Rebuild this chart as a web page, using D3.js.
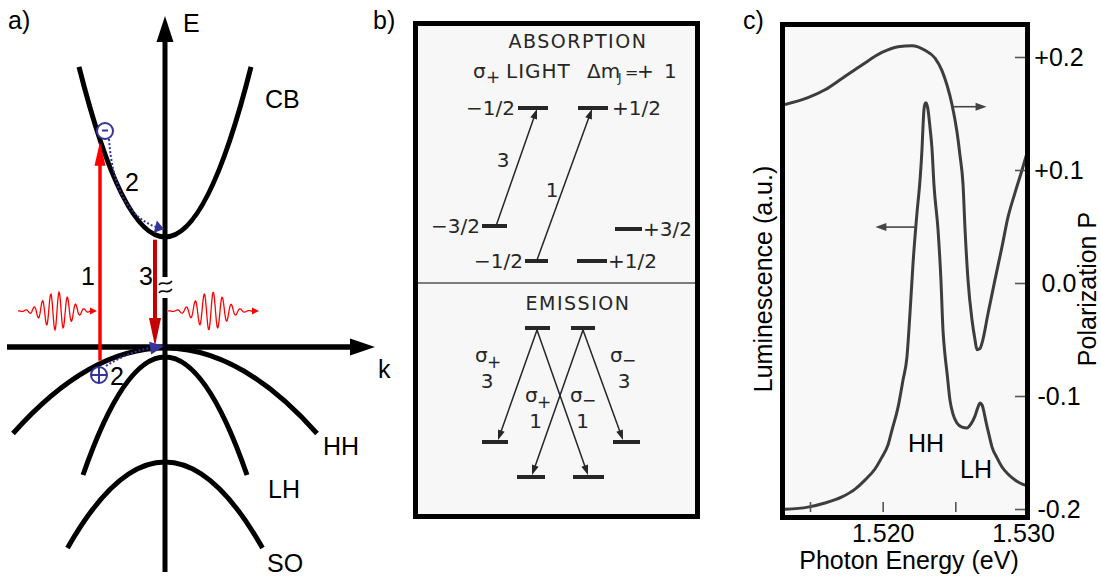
<!DOCTYPE html>
<html>
<head>
<meta charset="utf-8">
<script src="https://cdn.jsdelivr.net/npm/d3@7/dist/d3.min.js"></script>
<style>
  html, body { margin: 0; padding: 0; background: #ffffff; }
  svg { display: block; }
</style>
</head>
<body>
<svg id="fig" width="1101" height="579"></svg>
<script>
// ---------- (a) band diagram: parabolic bands E(k) = E0 + c*k^2 ----------
const bandNames = ["CB", "HH", "LH", "SO"];
const bandEdge  = [1.10, -0.01, -0.10, -1.15];
const bandCurv  = [2.30, -0.37, -1.755, -0.905];
const bandKMax  = [0.86, 1.52, 0.82, 0.975];
const pumpK = -0.65;   // step 1: absorption
const emitK = -0.10;   // step 3: emission

// ---------- (b) optical selection rules ----------
const absUpper = ["\u22121/2", "+1/2"];
const absLower = ["\u22123/2", "+3/2", "\u22121/2", "+1/2"];
const absStrength = ["3", "1"];
const emiSigma = ["+", "\u2212", "+", "\u2212"];
const emiStrength = ["3", "3", "1", "1"];

// ---------- (c) luminescence and polarization spectra ----------
const lumE = [1.51328, 1.51486, 1.51603, 1.51720, 1.51810, 1.51878, 1.51947, 1.51995, 1.52037, 1.52064,
              1.52106, 1.52140, 1.52167, 1.52188, 1.52209, 1.52236, 1.52257, 1.52271, 1.52278, 1.52284,
              1.52291, 1.52298, 1.52305, 1.52312, 1.52326, 1.52339, 1.52353, 1.52381, 1.52401, 1.52415,
              1.52429, 1.52443, 1.52463, 1.52484, 1.52511, 1.52546, 1.52580, 1.52608, 1.52635, 1.52656,
              1.52670, 1.52684, 1.52697, 1.52711, 1.52732, 1.52752, 1.52787, 1.52821, 1.52862, 1.52911,
              1.52979, 1.53000];
const lumI = [0.002, 0.007, 0.017, 0.032, 0.051, 0.073, 0.100, 0.129, 0.159, 0.195,
              0.251, 0.317, 0.373, 0.480, 0.602, 0.724, 0.805, 0.883, 0.939, 0.976,
              0.990, 0.993, 0.988, 0.976, 0.932, 0.883, 0.793, 0.683, 0.561, 0.439,
              0.378, 0.334, 0.268, 0.234, 0.212, 0.202, 0.200, 0.210, 0.229, 0.251,
              0.261, 0.256, 0.239, 0.215, 0.183, 0.154, 0.127, 0.105, 0.088, 0.073,
              0.061, 0.059];
const polE = [1.51328, 1.51486, 1.51603, 1.51720, 1.51858, 1.51995, 1.52106, 1.52202, 1.52291, 1.52360,
              1.52408, 1.52443, 1.52477, 1.52511, 1.52532, 1.52553, 1.52567, 1.52587, 1.52615, 1.52635,
              1.52649, 1.52670, 1.52684, 1.52725, 1.52773, 1.52821, 1.52862, 1.52911, 1.52959, 1.53000];
const polP = [0.158, 0.164, 0.171, 0.181, 0.193, 0.204, 0.209, 0.210, 0.206, 0.199,
              0.188, 0.175, 0.158, 0.134, 0.113, 0.087, 0.047, 0.003, -0.033, -0.050,
              -0.059, -0.058, -0.053, -0.027, 0.003, 0.032, 0.058, 0.080, 0.100, 0.118];
const eTicks = [1.515, 1.520, 1.525, 1.530];
const eTickLabels = ["", "1.520", "", "1.530"];
const pTicks = [0.2, 0.1, 0.0, -0.1, -0.2];
const pTickLabels = ["+0.2", "+0.1", "0.0", "-0.1", "-0.2"];

const SANS = "'Liberation Sans', Arial, sans-serif";
const HAND = "'DejaVu Sans', sans-serif";
const svg = d3.select("#fig");

// filled triangular arrowhead ending at (x2, y2), pointing along (x1,y1)->(x2,y2)
function arrowHead(g, x1, y1, x2, y2, len, half, color) {
  const a = Math.atan2(y2 - y1, x2 - x1);
  const bx = x2 - len * Math.cos(a), by = y2 - len * Math.sin(a);
  const px = -Math.sin(a) * half, py = Math.cos(a) * half;
  g.append("polygon")
    .attr("points", `${x2},${y2} ${bx + px},${by + py} ${bx - px},${by - py}`)
    .attr("fill", color);
}
function label(g, txt, x, y, opts = {}) {
  return g.append("text").attr("x", x).attr("y", y)
    .attr("font-family", opts.family || SANS)
    .attr("font-size", opts.size || 25)
    .attr("fill", opts.fill || "#000")
    .attr("text-anchor", opts.anchor || "start")
    .text(txt);
}

// ======================= panel (a) =======================
const gA = svg.append("g");
const kX = d3.scaleLinear().domain([0, 1]).range([165, 265]);
const eY = d3.scaleLinear().domain([0, 1]).range([347, 247]);
const bandE = (i, k) => bandEdge[i] + bandCurv[i] * k * k;

// axes
gA.append("line").attr("x1", kX(0)).attr("x2", kX(0)).attr("y1", 40).attr("y2", 277)
  .attr("stroke", "#000").attr("stroke-width", 5);
gA.append("line").attr("x1", kX(0)).attr("x2", kX(0)).attr("y1", 298).attr("y2", 572)
  .attr("stroke", "#000").attr("stroke-width", 5);
arrowHead(gA, kX(0), 80, kX(0), 16, 26, 8.5, "#000");
gA.append("line").attr("x1", 7).attr("x2", 352).attr("y1", eY(0)).attr("y2", eY(0))
  .attr("stroke", "#000").attr("stroke-width", 5.5);
arrowHead(gA, 300, eY(0), 375, eY(0), 25, 8.5, "#000");
// axis break
[283, 291].forEach(y => {
  gA.append("path")
    .attr("d", `M159,${y + 2} C162,${y - 4} 167,${y + 5} 172,${y - 2}`)
    .attr("fill", "none").attr("stroke", "#000").attr("stroke-width", 1.6);
});

// bands (exact parabolas as quadratic Beziers)
bandNames.forEach((name, i) => {
  const K = bandKMax[i];
  const p = d3.path();
  p.moveTo(kX(-K), eY(bandE(i, -K)));
  p.quadraticCurveTo(kX(0), eY(bandEdge[i] - bandCurv[i] * K * K), kX(K), eY(bandE(i, K)));
  gA.append("path").attr("d", p.toString()).attr("fill", "none")
    .attr("stroke", "#000").attr("stroke-width", 5);
});

// step 1: vertical absorption HH -> CB
{
  const x = kX(pumpK), yb = eY(bandE(1, pumpK)) - 3, yt = eY(bandE(0, pumpK)) + 2;
  gA.append("line").attr("x1", x).attr("x2", x).attr("y1", yb).attr("y2", yt + 22)
    .attr("stroke", "#ff0000").attr("stroke-width", 3.5);
  arrowHead(gA, x, yb, x, yt, 24, 5.5, "#ff0000");
}
// step 3: emission CB -> top of valence band
{
  const x = kX(emitK), yt = eY(bandE(0, emitK)) + 5, yb = eY(0) - 1;
  gA.append("line").attr("x1", x).attr("x2", x).attr("y1", yt).attr("y2", yb - 24)
    .attr("stroke", "#c40000").attr("stroke-width", 4);
  arrowHead(gA, x, yt, x, yb, 28, 6, "#c40000");
}

// photon wave packets
function wavePath(x0, x1, y0, xc, amp, period, sigma) {
  const pts = d3.range(x0, x1 + 0.01, 0.5).map(x => {
    const env = Math.exp(-0.5 * ((x - xc) / sigma) ** 2);
    return [x, y0 - amp * env * Math.sin(2 * Math.PI * (x - xc) / period)];
  });
  return d3.line()(pts);
}
gA.append("path").attr("d", wavePath(18, 92, 311, 57, 19, 8.3, 13))
  .attr("fill", "none").attr("stroke", "#ff0000").attr("stroke-width", 1.3);
arrowHead(gA, 85, 311, 97, 311, 7, 3.5, "#ff0000");
gA.append("path").attr("d", wavePath(168, 253, 311, 211, 19, 9, 14))
  .attr("fill", "none").attr("stroke", "#ff0000").attr("stroke-width", 1.3);
arrowHead(gA, 245, 311, 259, 311, 7, 3.5, "#ff0000");

// step 2: relaxation of electron and hole
const BLUE = "#35349a";
gA.append("path").attr("d", "M109,139 Q114,212 156,227")
  .attr("fill", "none").attr("stroke", BLUE).attr("stroke-width", 2).attr("stroke-dasharray", "2,2");
arrowHead(gA, 154, 226.5, 164, 229, 9, 6.5, BLUE);
gA.append("path").attr("d", "M106,366 Q128,352 150,348")
  .attr("fill", "none").attr("stroke", BLUE).attr("stroke-width", 2).attr("stroke-dasharray", "2,2");
arrowHead(gA, 148, 348.5, 164, 346, 14, 6.5, BLUE);

gA.append("circle").attr("cx", 105).attr("cy", 131).attr("r", 8)
  .attr("fill", "#fff").attr("stroke", BLUE).attr("stroke-width", 2);
gA.append("line").attr("x1", 102).attr("x2", 108).attr("y1", 130.5).attr("y2", 130.5)
  .attr("stroke", BLUE).attr("stroke-width", 2);
gA.append("circle").attr("cx", 99).attr("cy", 375).attr("r", 8)
  .attr("fill", "#fff").attr("stroke", BLUE).attr("stroke-width", 2);
gA.append("line").attr("x1", 99).attr("x2", 99).attr("y1", 367).attr("y2", 383)
  .attr("stroke", BLUE).attr("stroke-width", 2);
gA.append("line").attr("x1", 91).attr("x2", 107).attr("y1", 375).attr("y2", 375)
  .attr("stroke", BLUE).attr("stroke-width", 2);

// labels
label(gA, "a)", 8, 29);
label(gA, "E", 183, 32);
label(gA, "k", 378, 378);
label(gA, bandNames[0], 265, 108);
label(gA, bandNames[1], 323, 455);
label(gA, bandNames[2], 268, 498);
label(gA, bandNames[3], 267, 572);
label(gA, "1", 81, 285);
label(gA, "3", 139, 285);
label(gA, "2", 125, 191);
label(gA, "2", 110, 385);

// ======================= panel (b) =======================
const gB = svg.append("g");
const INK = "#262626";
gB.append("rect").attr("x", 415.5).attr("y", 23.5).attr("width", 282).attr("height", 493)
  .attr("fill", "#f7f7f7").attr("stroke", "#000").attr("stroke-width", 5);
gB.append("line").attr("x1", 418).attr("x2", 695).attr("y1", 283).attr("y2", 283)
  .attr("stroke", "#555").attr("stroke-width", 1.6);
label(gB, "b)", 373, 29);

function hand(txt, x, y, anchor = "start", size = 20) {
  return label(gB, txt, x, y, { family: HAND, size: size, fill: INK, anchor: anchor });
}
function bar(x1, x2, y) {
  gB.append("line").attr("x1", x1).attr("x2", x2).attr("y1", y).attr("y2", y)
    .attr("stroke", INK).attr("stroke-width", 4);
}
function thinArrow(x1, y1, x2, y2) {
  const a = Math.atan2(y2 - y1, x2 - x1);
  gB.append("line").attr("x1", x1).attr("y1", y1)
    .attr("x2", x2 - 7 * Math.cos(a)).attr("y2", y2 - 7 * Math.sin(a))
    .attr("stroke", INK).attr("stroke-width", 1.5);
  arrowHead(gB, x1, y1, x2, y2, 10, 3.5, INK);
}

hand("ABSORPTION", 578, 48, "middle", 19).attr("letter-spacing", 1.5);
hand("\u03C3", 473, 78);
hand("+", 486, 83, "start", 17);
hand("LIGHT", 506, 78).attr("letter-spacing", 1);
hand("\u0394m", 587, 78);
hand("J", 618, 82, "start", 12);
hand("=", 625, 78, "start", 16);
hand("+", 637, 78);
hand("1", 664, 78);

// absorption levels
bar(518, 548, 108); bar(578, 608, 108);
hand(absUpper[0], 515, 115, "end"); hand(absUpper[1], 612, 115);
bar(482, 507, 226); bar(615, 642, 229);
hand(absLower[0], 480, 233, "end"); hand(absLower[1], 643, 236);
bar(525, 548, 261); bar(577, 607, 261);
hand(absLower[2], 523, 268, "end"); hand(absLower[3], 608, 268);
thinArrow(496, 226, 537, 109);
thinArrow(537, 260, 592, 109);
hand(absStrength[0], 503, 167, "middle");
hand(absStrength[1], 552, 197, "middle");

// emission
hand("EMISSION", 578, 310, "middle", 19).attr("letter-spacing", 1.5);
bar(525, 550, 328); bar(571, 595, 328);
bar(482, 508, 442); bar(613, 640, 442);
bar(517, 545, 477); bar(573, 604, 477);
thinArrow(537, 330, 498, 440);
thinArrow(537, 330, 588, 475);
thinArrow(583, 330, 532, 475);
thinArrow(583, 330, 623, 440);
// sigma labels: outer pair, then inner pair
[[475, 362, 487], [610, 362, 624], [525, 402, 535.5], [570, 402, 582.5]].forEach((p, i) => {
  hand("\u03C3", p[0], p[1]);
  hand(emiSigma[i], p[0] + 12, p[1] + (emiSigma[i] === "+" ? 6 : 4), "start", 17);
  hand(emiStrength[i], p[2], p[1] + 26, "middle");
});

// ======================= panel (c) =======================
const gC = svg.append("g");
const xC = d3.scaleLinear().domain([1.515, 1.530]).range([810, 1028]);
const yL = d3.scaleLinear().domain([0, 1]).range([510, 100]);
const yP = d3.scaleLinear().domain([-0.2, 0.2]).range([509, 57]);

gC.append("rect").attr("x", 782.5).attr("y", 24.5).attr("width", 245).attr("height", 493)
  .attr("fill", "#f8f8f8");
gC.append("clipPath").attr("id", "clipC").append("rect")
  .attr("x", 785).attr("y", 27).attr("width", 240).attr("height", 488);

const CURVE = "#3d3d3d";
const lumLine = d3.line().x(i => xC(lumE[i])).y(i => yL(lumI[i])).curve(d3.curveMonotoneX);
const polLine = d3.line().x(i => xC(polE[i])).y(i => yP(polP[i])).curve(d3.curveMonotoneX);
const plot = gC.append("g").attr("clip-path", "url(#clipC)");
plot.append("path").attr("d", lumLine(d3.range(lumE.length)))
  .attr("fill", "none").attr("stroke", CURVE).attr("stroke-width", 3);
plot.append("path").attr("d", polLine(d3.range(polE.length)))
  .attr("fill", "none").attr("stroke", CURVE).attr("stroke-width", 3);

// which axis each curve belongs to
gC.append("line").attr("x1", xC(1.5248)).attr("x2", xC(1.5266)).attr("y1", yP(0.156)).attr("y2", yP(0.156))
  .attr("stroke", "#444").attr("stroke-width", 1.6);
arrowHead(gC, xC(1.5248), yP(0.156), xC(1.52715), yP(0.156), 11, 4, "#444");
gC.append("line").attr("x1", xC(1.5223)).attr("x2", xC(1.5202)).attr("y1", yL(0.69)).attr("y2", yL(0.69))
  .attr("stroke", "#444").attr("stroke-width", 1.6);
arrowHead(gC, xC(1.5223), yL(0.69), xC(1.5195), yL(0.69), 11, 4, "#444");

// polarization axis (right)
const pAxis = d3.axisRight(yP).tickValues(pTicks).tickSize(10)
  .tickFormat((d, i) => pTickLabels[i]);
const pa = gC.append("g").attr("transform", "translate(1015,0)").call(pAxis);
pa.select(".domain").remove();
pa.selectAll(".tick line").attr("stroke", "#555").attr("stroke-width", 1.6);
pa.selectAll(".tick text").attr("x", 44).attr("text-anchor", "middle")
  .attr("font-family", SANS).attr("font-size", 25).attr("fill", "#000").attr("dy", "0.35em");

// photon energy axis (bottom)
const eAxis = d3.axisBottom(xC).tickValues(eTicks).tickSize(10)
  .tickFormat((d, i) => eTickLabels[i]);
const ea = gC.append("g").attr("transform", "translate(0,502)").call(eAxis);
ea.select(".domain").remove();
ea.selectAll(".tick line").attr("stroke", "#555").attr("stroke-width", 1.6);
ea.selectAll(".tick text").attr("y", 40).attr("dy", 0)
  .attr("dx", (d, i) => i === eTicks.length - 1 ? -5 : 0)
  .attr("font-family", SANS).attr("font-size", 25).attr("fill", "#000");

gC.append("rect").attr("x", 782.5).attr("y", 24.5).attr("width", 245).attr("height", 493)
  .attr("fill", "none").attr("stroke", "#000").attr("stroke-width", 5);

label(gC, "c)", 743, 29);
label(gC, "HH", 908, 452);
label(gC, "LH", 960, 478);
label(gC, "Photon Energy (eV)", 909, 569, { anchor: "middle" });
label(gC, "Luminescence (a.u.)", 0, 0, { anchor: "middle" })
  .attr("transform", "translate(772,279) rotate(-90)");
label(gC, "Polarization P", 0, 0, { anchor: "middle" })
  .attr("transform", "translate(1096,289) rotate(-90)");
</script>
</body>
</html>
